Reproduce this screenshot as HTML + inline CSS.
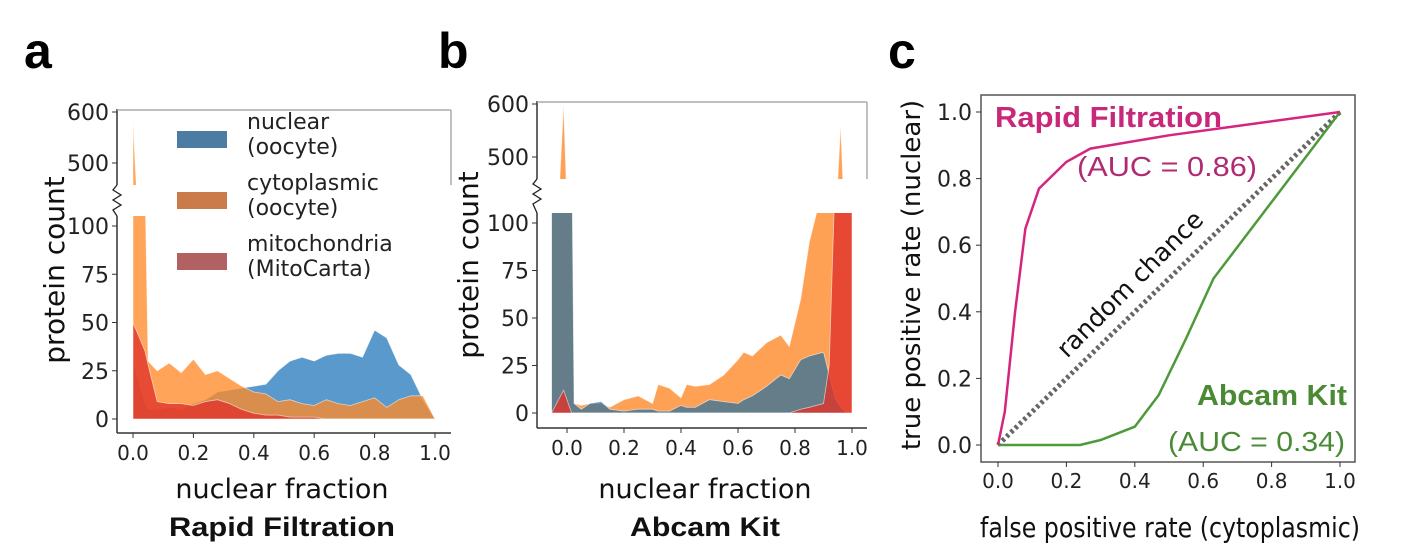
<!DOCTYPE html>
<html><head><meta charset="utf-8"><style>
html,body{margin:0;padding:0;background:#fff;}
svg{display:block;font-family:"DejaVu Sans","Liberation Sans",sans-serif;}
</style></head><body>
<svg id="fig" width="1419" height="557" viewBox="0 0 1419 557">
<text x="24" y="68" font-size="50" font-weight="bold" font-family="Liberation Sans">a</text>
<text x="438" y="68" font-size="50" font-weight="bold" font-family="Liberation Sans">b</text>
<text x="888" y="68" font-size="50" font-weight="bold" font-family="Liberation Sans">c</text>
<g id="gA"></g>
<g id="gB"></g>
<g id="gC"></g>
</svg>
<script>
// Panel a data (Rapid Filtration)
const aX = [0,0.04,0.05,0.08,0.12,0.16,0.2,0.24,0.28,0.32,0.36,0.4,0.44,0.48,0.52,0.56,0.6,0.64,0.68,0.72,0.76,0.8,0.84,0.88,0.92,0.96,1.0];
const aNuclear = [30,8,5,5,6,5,8,10,14,15,16,17,18,25,30,32,30,33,34,34,32,46,42,28,23,10,0];
const aCyto = [580,120,30,25,29,24,31,23,25,21,17,14,13,9,10,8,7,10,8,7,9,11,6,10,12,12,0];
const aMito = [50,35,28,9,8,8,7,9,10,8,5,3,2,2,1,1,1,0,0,0,0,0,0,0,0,0,0];
// Panel b data (Abcam Kit)
const bX = [-0.054,-0.012,0.016,0.025,0.05,0.08,0.12,0.15,0.2,0.25,0.3,0.32,0.36,0.4,0.42,0.45,0.5,0.55,0.6,0.62,0.65,0.7,0.75,0.78,0.82,0.85,0.9,0.92,0.94,0.96,0.98,1.0];
const bNuclear = [150,150,150,5,2,5,6,2,1,2,2,1,1,4,3,3,7,6,5,7,9,14,20,18,28,30,32,20,8,3,0,0];
const bCyto = [150,600,150,5,4,5,5,3,7,9,5,15,13,8,15,14,15,20,28,32,30,37,41,35,60,90,120,200,350,560,300,120];
const bMito = [0,12,0,0,0,0,0,0,0,0,0,0,0,0,0,0,0,0,0,0,0,0,0,0,2,3,5,25,120,150,150,150];
const histTicksLow = [0,25,50,75,100];
const histTicksHigh = [500,600];
const fracTicks = [0,0.2,0.4,0.6,0.8,1.0];
// Panel c data (ROC)
const rfFpr = [0,0.02,0.05,0.08,0.12,0.2,0.27,0.5,1.0];
const rfTpr = [0,0.1,0.4,0.65,0.77,0.85,0.89,0.93,1.0];
const akFpr = [0,0.24,0.3,0.4,0.47,0.55,0.63,1.0];
const akTpr = [0,0,0.015,0.055,0.15,0.32,0.5,1.0];
const rocTicks = [0,0.2,0.4,0.6,0.8,1.0];

const NS='http://www.w3.org/2000/svg';
function mk(parent,tag,attrs,text){const e=document.createElementNS(NS,tag);for(const k in attrs)e.setAttribute(k,attrs[k]);if(text!==undefined)e.textContent=text;parent.appendChild(e);return e;}

function histPanel(g,cfg,xs,series){
  const sx=v=>cfg.x0+(v-0)*(cfg.x1-cfg.x0);
  const syL=v=>cfg.yL0-v*(cfg.yL0-cfg.yL100)/100;
  const syH=v=>cfg.yH600+(600-v)*(cfg.yH500-cfg.yH600)/100;
  const defs=mk(g,'defs',{});
  const cl=mk(defs,'clipPath',{id:cfg.id+'low'});mk(cl,'rect',{x:cfg.left,y:cfg.lowTop,width:cfg.right-cfg.left,height:cfg.yL0+20-cfg.lowTop});
  const ch=mk(defs,'clipPath',{id:cfg.id+'high'});mk(ch,'rect',{x:cfg.left,y:cfg.yH600-4,width:cfg.right-cfg.left,height:cfg.highBot-cfg.yH600+4});
  const gl=mk(g,'g',{'clip-path':'url(#'+cfg.id+'low)'});
  const gh=mk(g,'g',{'clip-path':'url(#'+cfg.id+'high)'});
  series.forEach(s=>{
    [[gl,syL],[gh,syH]].forEach(([gg,sy])=>{
      let d='M'+sx(xs[0])+','+sy(0);
      for(let i=0;i<xs.length;i++)d+=' L'+sx(xs[i]).toFixed(1)+','+sy(s.v[i]).toFixed(1);
      d+=' L'+sx(xs[xs.length-1])+','+sy(0)+' Z';
      const p=mk(gg,'path',{d:d,fill:s.c,'fill-opacity':s.o,stroke:'#fff','stroke-width':0.8,'stroke-opacity':0.6});
      
      
    });
  });
  mk(g,'line',{x1:cfg.left,y1:cfg.yH600-3,x2:cfg.left,y2:cfg.highBot,stroke:'#333','stroke-width':1.5});
  mk(g,'line',{x1:cfg.left,y1:cfg.yH600-2,x2:cfg.right,y2:cfg.yH600-2,stroke:'#aaa','stroke-width':1.5});
  mk(g,'line',{x1:cfg.right,y1:cfg.yH600-2,x2:cfg.right,y2:cfg.highBot,stroke:'#aaa','stroke-width':1.5});
  mk(g,'line',{x1:cfg.left,y1:cfg.lowTop,x2:cfg.left,y2:cfg.bottom,stroke:'#333','stroke-width':1.5});
  mk(g,'line',{x1:cfg.left,y1:cfg.bottom,x2:cfg.right,y2:cfg.bottom,stroke:'#333','stroke-width':1.5});
  const zz=mk(g,'path',{d:`M${cfg.left},${cfg.highBot} l-4,5 l8,5 l-8,5 l8,5 l-8,5 l4,${cfg.lowTop-cfg.highBot-25}`,fill:'none',stroke:'#222','stroke-width':1.3});
  
  histTicksLow.forEach(v=>{const y=syL(v);mk(g,'line',{x1:cfg.left-5,y1:y,x2:cfg.left,y2:y,stroke:'#333'});
    const t=mk(g,'text',{x:cfg.left-8,y:y+8,'font-size':22,'text-anchor':'end',fill:'#222'},String(v));});
  histTicksHigh.forEach(v=>{const y=syH(v);mk(g,'line',{x1:cfg.left-5,y1:y,x2:cfg.left,y2:y,stroke:'#333'});
    const t=mk(g,'text',{x:cfg.left-8,y:y+8,'font-size':22,'text-anchor':'end',fill:'#222'},String(v));});
  fracTicks.forEach(v=>{const x=sx(v);mk(g,'line',{x1:x,y1:cfg.bottom,x2:x,y2:cfg.bottom+5,stroke:'#333'});
    const t=mk(g,'text',{x:x,y:cfg.bottom+27,'font-size':20,'text-anchor':'middle',fill:'#222'},v.toFixed(1));});
  const yl=mk(g,'text',{x:0,y:0,'font-size':28,'text-anchor':'middle',fill:'#111',transform:`translate(${cfg.ylabX},${cfg.ylabY}) rotate(-90)`},'protein count');
  
  const xl=mk(g,'text',{x:cfg.xlabX,y:498,'font-size':27,'text-anchor':'middle',fill:'#111'},'nuclear fraction');
  
  const st=mk(g,'text',{x:cfg.xlabX,y:536,'font-size':27,'font-weight':'bold','font-family':'Liberation Sans','text-anchor':'middle',fill:'#111',textLength:cfg.titleW,lengthAdjust:'spacingAndGlyphs'},cfg.title);
  
}

const C_BLUE='#2a7cbd',C_OR='#ff8a2a',C_RED='#e0322a';
histPanel(document.getElementById('gA'),{id:'a',x0:133,x1:435,left:117,right:451,bottom:433,yL0:419,yL100:226,yH600:112,yH500:163,highBot:185,lowTop:216,ylabX:64,ylabY:270,xlabX:282,title:'Rapid Filtration',titleW:226},aX,
  [{n:'nuclear',c:C_BLUE,v:aNuclear,o:0.78},{n:'cytoplasmic',c:C_OR,v:aCyto,o:0.78},{n:'mitochondria',c:C_RED,v:aMito,o:0.78}]);
histPanel(document.getElementById('gB'),{id:'b',x0:567,x1:852,left:537,right:867,bottom:428,yL0:413,yL100:223,yH600:104,yH500:157,highBot:179,lowTop:213,ylabX:478,ylabY:265,xlabX:705,title:'Abcam Kit',titleW:150},bX,
  [{n:'cytoplasmic',c:C_OR,v:bCyto,o:0.8},{n:'nuclear',c:'#2a6e9e',v:bNuclear,o:0.72},{n:'mitochondria',c:C_RED,v:bMito,o:0.8}]);

(function(){
  const g=document.getElementById('gA');
  const items=[['#4d7ca3','nuclear','(oocyte)',131],['#cb7a4a','cytoplasmic','(oocyte)',192],['#b26162','mitochondria','(MitoCarta)',253]];
  items.forEach(it=>{
    const lg=mk(g,'g',{});
    
    mk(lg,'rect',{x:177,y:it[3],width:50,height:17,fill:it[0]});
    mk(lg,'text',{x:247,y:it[3]-2,'font-size':22,fill:'#222'},it[1]);
    mk(lg,'text',{x:247,y:it[3]+23,'font-size':22,fill:'#222'},it[2]);
  });
})();

(function(){
  const g=document.getElementById('gC');
  const L=981,R=1355,T=95,B=462,X0=998,X1=1340,Y0=445,Y1=112;
  const sx=v=>X0+v*(X1-X0), sy=v=>Y0-v*(Y0-Y1);
  const fr=mk(g,'rect',{x:L,y:T,width:R-L,height:B-T,fill:'none',stroke:'#555','stroke-width':1.5});
  
  const diag=mk(g,'line',{x1:sx(0),y1:sy(0),x2:sx(1),y2:sy(1),stroke:'#666','stroke-width':5,'stroke-dasharray':'3,3'});
  
  const line=(xs,ys,c,n)=>{const p=mk(g,'polyline',{points:xs.map((v,i)=>sx(v).toFixed(1)+','+sy(ys[i]).toFixed(1)).join(' '),fill:'none',stroke:c,'stroke-width':2.5});
    };
  line(akFpr,akTpr,'#4e9a3a','abcam-roc-line');
  line(rfFpr,rfTpr,'#d4267f','rapid-filtration-roc-line');
  rocTicks.forEach(v=>{
    mk(g,'line',{x1:L-5,y1:sy(v),x2:L,y2:sy(v),stroke:'#333'});
    const t=mk(g,'text',{x:L-9,y:sy(v)+8,'font-size':22,'text-anchor':'end',fill:'#222'},v.toFixed(1));
    mk(g,'line',{x1:sx(v),y1:B,x2:sx(v),y2:B+5,stroke:'#333'});
    const u=mk(g,'text',{x:sx(v),y:B+26,'font-size':20,'text-anchor':'middle',fill:'#222'},v.toFixed(1));
  });
  const yl=mk(g,'text',{'font-size':26,'text-anchor':'middle',fill:'#111',transform:'translate(920,275) rotate(-90)'},'true positive rate (nuclear)');
  
  const xl=mk(g,'text',{x:1170,y:537,'font-size':28,'text-anchor':'middle',fill:'#111',textLength:380,lengthAdjust:'spacingAndGlyphs'},'false positive rate (cytoplasmic)');
  
  const t1=mk(g,'text',{x:995,y:127,'font-size':29,'font-weight':'bold','font-family':'Liberation Sans',fill:'#c8287a',textLength:227,lengthAdjust:'spacingAndGlyphs'},'Rapid Filtration');
  const t2=mk(g,'text',{x:1077,y:176,'font-size':28,'font-family':'Liberation Sans',fill:'#b02a72',textLength:180,lengthAdjust:'spacingAndGlyphs'},'(AUC = 0.86)');
  const t3=mk(g,'text',{'font-size':25,'text-anchor':'middle',fill:'#111',transform:'translate(1136,290) rotate(-45)'},'random chance');
  const t4=mk(g,'text',{x:1347,y:405,'font-size':29,'font-weight':'bold','font-family':'Liberation Sans','text-anchor':'end',fill:'#4a8a34',textLength:150,lengthAdjust:'spacingAndGlyphs'},'Abcam Kit');
  const t5=mk(g,'text',{x:1345,y:451,'font-size':28,'font-family':'Liberation Sans','text-anchor':'end',fill:'#4a8a34',textLength:177,lengthAdjust:'spacingAndGlyphs'},'(AUC = 0.34)');
})();
</script>
</body></html>
